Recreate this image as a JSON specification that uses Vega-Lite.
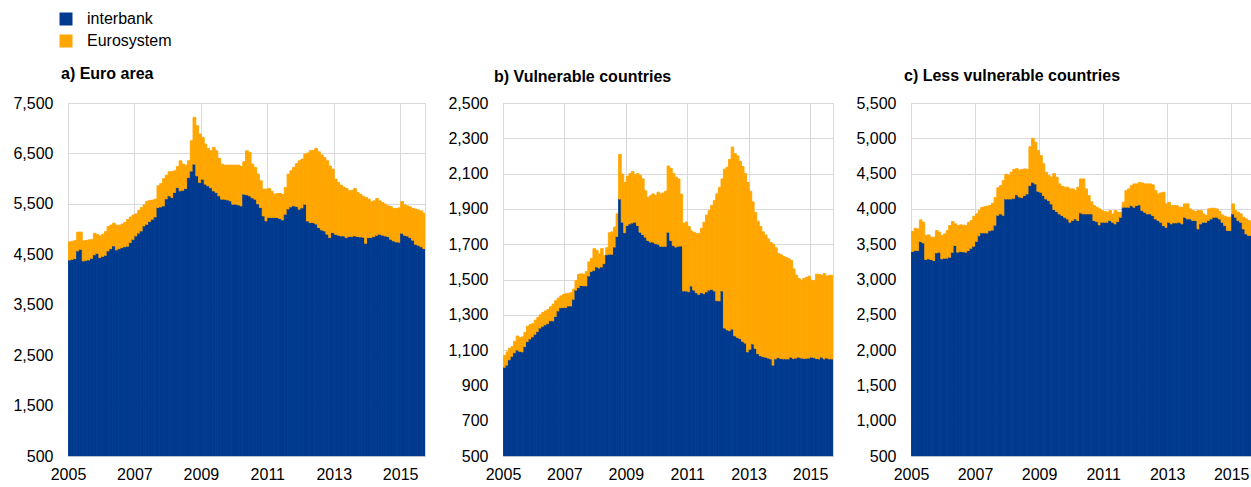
{
"$schema": "https://vega.github.io/schema/vega-lite/v6.json",
"padding": {"left": 12, "top": 11, "right": 0, "bottom": 0},
"background": "#ffffff",
"config": {
  "font": "Liberation Sans",
  "view": {"stroke": "#d9d9d9"},
  "bar": {"binSpacing": 0, "continuousBandSize": 1},
  "axis": {"labelFontSize": 16, "labelColor": "#000000", "gridColor": "#d9d9d9", "ticks": false, "domain": false, "labelFont": "Liberation Sans"},
  "axisY": {"labelPadding": 15},
  "axisX": {"labelPadding": 10, "domain": true, "domainColor": "#b9c0ce", "labelFlush": false},
  "title": {"font": "Liberation Sans", "fontSize": 16, "fontWeight": "bold", "color": "#000000", "anchor": "start", "frame": "group", "baseline": "alphabetic"},
  "legend": {"labelFont": "Liberation Sans", "labelFontSize": 16, "labelColor": "#000000"}
},
"datasets": {
"a": [
{"d":"2005-01","interbank":4387,"Eurosystem":358},{"d":"2005-02","interbank":4400,"Eurosystem":360},{"d":"2005-03","interbank":4414,"Eurosystem":356},{"d":"2005-04","interbank":4566,"Eurosystem":374},{"d":"2005-05","interbank":4599,"Eurosystem":341},{"d":"2005-06","interbank":4367,"Eurosystem":398},{"d":"2005-07","interbank":4380,"Eurosystem":395},{"d":"2005-08","interbank":4387,"Eurosystem":398},{"d":"2005-09","interbank":4420,"Eurosystem":370},{"d":"2005-10","interbank":4490,"Eurosystem":427},{"d":"2005-11","interbank":4520,"Eurosystem":370},{"d":"2005-12","interbank":4434,"Eurosystem":430},
{"d":"2006-01","interbank":4460,"Eurosystem":437},{"d":"2006-02","interbank":4480,"Eurosystem":470},{"d":"2006-03","interbank":4566,"Eurosystem":484},{"d":"2006-04","interbank":4610,"Eurosystem":470},{"d":"2006-05","interbank":4665,"Eurosystem":451},{"d":"2006-06","interbank":4586,"Eurosystem":490},{"d":"2006-07","interbank":4610,"Eurosystem":466},{"d":"2006-08","interbank":4632,"Eurosystem":468},{"d":"2006-09","interbank":4650,"Eurosystem":479},{"d":"2006-10","interbank":4660,"Eurosystem":530},{"d":"2006-11","interbank":4732,"Eurosystem":508},{"d":"2006-12","interbank":4798,"Eurosystem":482},
{"d":"2007-01","interbank":4864,"Eurosystem":436},{"d":"2007-02","interbank":4920,"Eurosystem":450},{"d":"2007-03","interbank":4963,"Eurosystem":464},{"d":"2007-04","interbank":5063,"Eurosystem":417},{"d":"2007-05","interbank":5096,"Eurosystem":454},{"d":"2007-06","interbank":5150,"Eurosystem":415},{"d":"2007-07","interbank":5195,"Eurosystem":380},{"d":"2007-08","interbank":5240,"Eurosystem":353},{"d":"2007-09","interbank":5427,"Eurosystem":431},{"d":"2007-10","interbank":5440,"Eurosystem":460},{"d":"2007-11","interbank":5460,"Eurosystem":540},{"d":"2007-12","interbank":5600,"Eurosystem":469},
{"d":"2008-01","interbank":5659,"Eurosystem":477},{"d":"2008-02","interbank":5626,"Eurosystem":514},{"d":"2008-03","interbank":5725,"Eurosystem":431},{"d":"2008-04","interbank":5824,"Eurosystem":418},{"d":"2008-05","interbank":5758,"Eurosystem":596},{"d":"2008-06","interbank":5770,"Eurosystem":518},{"d":"2008-07","interbank":5805,"Eurosystem":463},{"d":"2008-08","interbank":6023,"Eurosystem":331},{"d":"2008-09","interbank":6150,"Eurosystem":602},{"d":"2008-10","interbank":6288,"Eurosystem":927},{"d":"2008-11","interbank":6056,"Eurosystem":994},{"d":"2008-12","interbank":5924,"Eurosystem":960},
{"d":"2009-01","interbank":5990,"Eurosystem":828},{"d":"2009-02","interbank":5891,"Eurosystem":794},{"d":"2009-03","interbank":5857,"Eurosystem":743},{"d":"2009-04","interbank":5820,"Eurosystem":733},{"d":"2009-05","interbank":5758,"Eurosystem":861},{"d":"2009-06","interbank":5725,"Eurosystem":828},{"d":"2009-07","interbank":5660,"Eurosystem":740},{"d":"2009-08","interbank":5593,"Eurosystem":695},{"d":"2009-09","interbank":5593,"Eurosystem":675},{"d":"2009-10","interbank":5580,"Eurosystem":688},{"d":"2009-11","interbank":5560,"Eurosystem":708},{"d":"2009-12","interbank":5493,"Eurosystem":775},
{"d":"2010-01","interbank":5493,"Eurosystem":775},{"d":"2010-02","interbank":5480,"Eurosystem":788},{"d":"2010-03","interbank":5460,"Eurosystem":782},{"d":"2010-04","interbank":5692,"Eurosystem":642},{"d":"2010-05","interbank":5680,"Eurosystem":873},{"d":"2010-06","interbank":5659,"Eurosystem":861},{"d":"2010-07","interbank":5620,"Eurosystem":668},{"d":"2010-08","interbank":5593,"Eurosystem":629},{"d":"2010-09","interbank":5500,"Eurosystem":590},{"d":"2010-10","interbank":5427,"Eurosystem":530},{"d":"2010-11","interbank":5261,"Eurosystem":530},{"d":"2010-12","interbank":5162,"Eurosystem":629},
{"d":"2011-01","interbank":5228,"Eurosystem":577},{"d":"2011-02","interbank":5228,"Eurosystem":522},{"d":"2011-03","interbank":5228,"Eurosystem":464},{"d":"2011-04","interbank":5228,"Eurosystem":477},{"d":"2011-05","interbank":5210,"Eurosystem":495},{"d":"2011-06","interbank":5182,"Eurosystem":503},{"d":"2011-07","interbank":5295,"Eurosystem":529},{"d":"2011-08","interbank":5400,"Eurosystem":690},{"d":"2011-09","interbank":5440,"Eurosystem":716},{"d":"2011-10","interbank":5460,"Eurosystem":762},{"d":"2011-11","interbank":5447,"Eurosystem":853},{"d":"2011-12","interbank":5394,"Eurosystem":960},
{"d":"2012-01","interbank":5420,"Eurosystem":967},{"d":"2012-02","interbank":5493,"Eurosystem":994},{"d":"2012-03","interbank":5160,"Eurosystem":1347},{"d":"2012-04","interbank":5129,"Eurosystem":1424},{"d":"2012-05","interbank":5129,"Eurosystem":1431},{"d":"2012-06","interbank":5100,"Eurosystem":1500},{"d":"2012-07","interbank":5030,"Eurosystem":1503},{"d":"2012-08","interbank":4983,"Eurosystem":1487},{"d":"2012-09","interbank":4963,"Eurosystem":1457},{"d":"2012-10","interbank":4900,"Eurosystem":1454},{"d":"2012-11","interbank":4831,"Eurosystem":1419},{"d":"2012-12","interbank":4930,"Eurosystem":1259},
{"d":"2013-01","interbank":4897,"Eurosystem":1093},{"d":"2013-02","interbank":4880,"Eurosystem":1044},{"d":"2013-03","interbank":4864,"Eurosystem":1007},{"d":"2013-04","interbank":4864,"Eurosystem":966},{"d":"2013-05","interbank":4831,"Eurosystem":974},{"d":"2013-06","interbank":4851,"Eurosystem":907},{"d":"2013-07","interbank":4851,"Eurosystem":919},{"d":"2013-08","interbank":4864,"Eurosystem":941},{"d":"2013-09","interbank":4851,"Eurosystem":874},{"d":"2013-10","interbank":4844,"Eurosystem":848},{"d":"2013-11","interbank":4840,"Eurosystem":810},{"d":"2013-12","interbank":4718,"Eurosystem":908},
{"d":"2014-01","interbank":4831,"Eurosystem":762},{"d":"2014-02","interbank":4831,"Eurosystem":709},{"d":"2014-03","interbank":4851,"Eurosystem":709},{"d":"2014-04","interbank":4877,"Eurosystem":729},{"d":"2014-05","interbank":4897,"Eurosystem":663},{"d":"2014-06","interbank":4880,"Eurosystem":646},{"d":"2014-07","interbank":4864,"Eurosystem":629},{"d":"2014-08","interbank":4851,"Eurosystem":609},{"d":"2014-09","interbank":4798,"Eurosystem":649},{"d":"2014-10","interbank":4765,"Eurosystem":642},{"d":"2014-11","interbank":4745,"Eurosystem":662},{"d":"2014-12","interbank":4740,"Eurosystem":680},
{"d":"2015-01","interbank":4917,"Eurosystem":629},{"d":"2015-02","interbank":4877,"Eurosystem":603},{"d":"2015-03","interbank":4864,"Eurosystem":596},{"d":"2015-04","interbank":4831,"Eurosystem":609},{"d":"2015-05","interbank":4780,"Eurosystem":627},{"d":"2015-06","interbank":4699,"Eurosystem":695},{"d":"2015-07","interbank":4679,"Eurosystem":701},{"d":"2015-08","interbank":4650,"Eurosystem":711},{"d":"2015-09","interbank":4613,"Eurosystem":702}
],
"b": [
{"d":"2005-01","interbank":1003,"Eurosystem":67},{"d":"2005-02","interbank":1015,"Eurosystem":75},{"d":"2005-03","interbank":1045,"Eurosystem":65},{"d":"2005-04","interbank":1065,"Eurosystem":55},{"d":"2005-05","interbank":1085,"Eurosystem":65},{"d":"2005-06","interbank":1100,"Eurosystem":80},{"d":"2005-07","interbank":1093,"Eurosystem":77},{"d":"2005-08","interbank":1090,"Eurosystem":85},{"d":"2005-09","interbank":1120,"Eurosystem":80},{"d":"2005-10","interbank":1148,"Eurosystem":87},{"d":"2005-11","interbank":1163,"Eurosystem":82},{"d":"2005-12","interbank":1175,"Eurosystem":75},
{"d":"2006-01","interbank":1190,"Eurosystem":80},{"d":"2006-02","interbank":1205,"Eurosystem":80},{"d":"2006-03","interbank":1225,"Eurosystem":75},{"d":"2006-04","interbank":1235,"Eurosystem":78},{"d":"2006-05","interbank":1243,"Eurosystem":79},{"d":"2006-06","interbank":1250,"Eurosystem":80},{"d":"2006-07","interbank":1266,"Eurosystem":79},{"d":"2006-08","interbank":1266,"Eurosystem":94},{"d":"2006-09","interbank":1290,"Eurosystem":90},{"d":"2006-10","interbank":1322,"Eurosystem":73},{"d":"2006-11","interbank":1340,"Eurosystem":67},{"d":"2006-12","interbank":1341,"Eurosystem":74},
{"d":"2007-01","interbank":1341,"Eurosystem":79},{"d":"2007-02","interbank":1350,"Eurosystem":72},{"d":"2007-03","interbank":1350,"Eurosystem":75},{"d":"2007-04","interbank":1388,"Eurosystem":57},{"d":"2007-05","interbank":1440,"Eurosystem":55},{"d":"2007-06","interbank":1454,"Eurosystem":76},{"d":"2007-07","interbank":1466,"Eurosystem":66},{"d":"2007-08","interbank":1464,"Eurosystem":66},{"d":"2007-09","interbank":1464,"Eurosystem":81},{"d":"2007-10","interbank":1520,"Eurosystem":80},{"d":"2007-11","interbank":1545,"Eurosystem":75},{"d":"2007-12","interbank":1552,"Eurosystem":123},
{"d":"2008-01","interbank":1571,"Eurosystem":94},{"d":"2008-02","interbank":1565,"Eurosystem":80},{"d":"2008-03","interbank":1571,"Eurosystem":104},{"d":"2008-04","interbank":1590,"Eurosystem":45},{"d":"2008-05","interbank":1640,"Eurosystem":40},{"d":"2008-06","interbank":1643,"Eurosystem":122},{"d":"2008-07","interbank":1643,"Eurosystem":127},{"d":"2008-08","interbank":1684,"Eurosystem":113},{"d":"2008-09","interbank":1744,"Eurosystem":128},{"d":"2008-10","interbank":1956,"Eurosystem":253},{"d":"2008-11","interbank":1825,"Eurosystem":272},{"d":"2008-12","interbank":1765,"Eurosystem":285},
{"d":"2009-01","interbank":1806,"Eurosystem":279},{"d":"2009-02","interbank":1815,"Eurosystem":285},{"d":"2009-03","interbank":1820,"Eurosystem":292},{"d":"2009-04","interbank":1825,"Eurosystem":270},{"d":"2009-05","interbank":1806,"Eurosystem":294},{"d":"2009-06","interbank":1768,"Eurosystem":322},{"d":"2009-07","interbank":1755,"Eurosystem":315},{"d":"2009-08","interbank":1740,"Eurosystem":263},{"d":"2009-09","interbank":1721,"Eurosystem":244},{"d":"2009-10","interbank":1712,"Eurosystem":263},{"d":"2009-11","interbank":1712,"Eurosystem":273},{"d":"2009-12","interbank":1703,"Eurosystem":272},
{"d":"2010-01","interbank":1700,"Eurosystem":295},{"d":"2010-02","interbank":1688,"Eurosystem":297},{"d":"2010-03","interbank":1688,"Eurosystem":302},{"d":"2010-04","interbank":1688,"Eurosystem":312},{"d":"2010-05","interbank":1768,"Eurosystem":375},{"d":"2010-06","interbank":1721,"Eurosystem":409},{"d":"2010-07","interbank":1693,"Eurosystem":407},{"d":"2010-08","interbank":1684,"Eurosystem":396},{"d":"2010-09","interbank":1688,"Eurosystem":382},{"d":"2010-10","interbank":1690,"Eurosystem":294},{"d":"2010-11","interbank":1435,"Eurosystem":384},{"d":"2010-12","interbank":1435,"Eurosystem":390},
{"d":"2011-01","interbank":1431,"Eurosystem":369},{"d":"2011-02","interbank":1463,"Eurosystem":312},{"d":"2011-03","interbank":1440,"Eurosystem":328},{"d":"2011-04","interbank":1425,"Eurosystem":335},{"d":"2011-05","interbank":1416,"Eurosystem":344},{"d":"2011-06","interbank":1425,"Eurosystem":365},{"d":"2011-07","interbank":1420,"Eurosystem":405},{"d":"2011-08","interbank":1430,"Eurosystem":435},{"d":"2011-09","interbank":1440,"Eurosystem":450},{"d":"2011-10","interbank":1444,"Eurosystem":476},{"d":"2011-11","interbank":1435,"Eurosystem":512},{"d":"2011-12","interbank":1380,"Eurosystem":605},
{"d":"2012-01","interbank":1379,"Eurosystem":643},{"d":"2012-02","interbank":1435,"Eurosystem":635},{"d":"2012-03","interbank":1225,"Eurosystem":900},{"d":"2012-04","interbank":1215,"Eurosystem":921},{"d":"2012-05","interbank":1210,"Eurosystem":971},{"d":"2012-06","interbank":1219,"Eurosystem":1031},{"d":"2012-07","interbank":1181,"Eurosystem":1032},{"d":"2012-08","interbank":1172,"Eurosystem":1028},{"d":"2012-09","interbank":1165,"Eurosystem":1005},{"d":"2012-10","interbank":1150,"Eurosystem":990},{"d":"2012-11","interbank":1140,"Eurosystem":960},{"d":"2012-12","interbank":1090,"Eurosystem":960},
{"d":"2013-01","interbank":1105,"Eurosystem":895},{"d":"2013-02","interbank":1135,"Eurosystem":805},{"d":"2013-03","interbank":1110,"Eurosystem":770},{"d":"2013-04","interbank":1080,"Eurosystem":750},{"d":"2013-05","interbank":1068,"Eurosystem":732},{"d":"2013-06","interbank":1063,"Eurosystem":707},{"d":"2013-07","interbank":1060,"Eurosystem":692},{"d":"2013-08","interbank":1055,"Eurosystem":675},{"d":"2013-09","interbank":1050,"Eurosystem":660},{"d":"2013-10","interbank":1015,"Eurosystem":685},{"d":"2013-11","interbank":1050,"Eurosystem":630},{"d":"2013-12","interbank":1058,"Eurosystem":589},
{"d":"2014-01","interbank":1052,"Eurosystem":588},{"d":"2014-02","interbank":1050,"Eurosystem":580},{"d":"2014-03","interbank":1050,"Eurosystem":575},{"d":"2014-04","interbank":1050,"Eurosystem":568},{"d":"2014-05","interbank":1060,"Eurosystem":549},{"d":"2014-06","interbank":1052,"Eurosystem":508},{"d":"2014-07","interbank":1055,"Eurosystem":470},{"d":"2014-08","interbank":1060,"Eurosystem":445},{"d":"2014-09","interbank":1055,"Eurosystem":441},{"d":"2014-10","interbank":1053,"Eurosystem":453},{"d":"2014-11","interbank":1053,"Eurosystem":459},{"d":"2014-12","interbank":1055,"Eurosystem":464},
{"d":"2015-01","interbank":1060,"Eurosystem":436},{"d":"2015-02","interbank":1057,"Eurosystem":436},{"d":"2015-03","interbank":1052,"Eurosystem":478},{"d":"2015-04","interbank":1050,"Eurosystem":478},{"d":"2015-05","interbank":1060,"Eurosystem":464},{"d":"2015-06","interbank":1050,"Eurosystem":484},{"d":"2015-07","interbank":1055,"Eurosystem":464},{"d":"2015-08","interbank":1050,"Eurosystem":474},{"d":"2015-09","interbank":1050,"Eurosystem":474}
],
"c": [
{"d":"2005-01","interbank":3396,"Eurosystem":284},{"d":"2005-02","interbank":3410,"Eurosystem":316},{"d":"2005-03","interbank":3410,"Eurosystem":307},{"d":"2005-04","interbank":3538,"Eurosystem":306},{"d":"2005-05","interbank":3519,"Eurosystem":292},{"d":"2005-06","interbank":3283,"Eurosystem":340},{"d":"2005-07","interbank":3292,"Eurosystem":340},{"d":"2005-08","interbank":3283,"Eurosystem":316},{"d":"2005-09","interbank":3269,"Eurosystem":330},{"d":"2005-10","interbank":3377,"Eurosystem":316},{"d":"2005-11","interbank":3387,"Eurosystem":283},{"d":"2005-12","interbank":3292,"Eurosystem":331},
{"d":"2006-01","interbank":3302,"Eurosystem":344},{"d":"2006-02","interbank":3302,"Eurosystem":391},{"d":"2006-03","interbank":3316,"Eurosystem":448},{"d":"2006-04","interbank":3387,"Eurosystem":434},{"d":"2006-05","interbank":3481,"Eurosystem":307},{"d":"2006-06","interbank":3387,"Eurosystem":377},{"d":"2006-07","interbank":3396,"Eurosystem":378},{"d":"2006-08","interbank":3392,"Eurosystem":378},{"d":"2006-09","interbank":3387,"Eurosystem":377},{"d":"2006-10","interbank":3410,"Eurosystem":401},{"d":"2006-11","interbank":3443,"Eurosystem":392},{"d":"2006-12","interbank":3472,"Eurosystem":424},
{"d":"2007-01","interbank":3540,"Eurosystem":390},{"d":"2007-02","interbank":3620,"Eurosystem":360},{"d":"2007-03","interbank":3660,"Eurosystem":360},{"d":"2007-04","interbank":3660,"Eurosystem":370},{"d":"2007-05","interbank":3660,"Eurosystem":380},{"d":"2007-06","interbank":3690,"Eurosystem":360},{"d":"2007-07","interbank":3700,"Eurosystem":380},{"d":"2007-08","interbank":3770,"Eurosystem":390},{"d":"2007-09","interbank":3910,"Eurosystem":390},{"d":"2007-10","interbank":3930,"Eurosystem":400},{"d":"2007-11","interbank":3910,"Eurosystem":490},{"d":"2007-12","interbank":4140,"Eurosystem":350},
{"d":"2008-01","interbank":4140,"Eurosystem":340},{"d":"2008-02","interbank":4140,"Eurosystem":380},{"d":"2008-03","interbank":4150,"Eurosystem":410},{"d":"2008-04","interbank":4200,"Eurosystem":370},{"d":"2008-05","interbank":4170,"Eurosystem":380},{"d":"2008-06","interbank":4160,"Eurosystem":400},{"d":"2008-07","interbank":4189,"Eurosystem":377},{"d":"2008-08","interbank":4212,"Eurosystem":348},{"d":"2008-09","interbank":4330,"Eurosystem":550},{"d":"2008-10","interbank":4377,"Eurosystem":623},{"d":"2008-11","interbank":4354,"Eurosystem":589},{"d":"2008-12","interbank":4250,"Eurosystem":575},
{"d":"2009-01","interbank":4236,"Eurosystem":519},{"d":"2009-02","interbank":4189,"Eurosystem":451},{"d":"2009-03","interbank":4141,"Eurosystem":378},{"d":"2009-04","interbank":4118,"Eurosystem":354},{"d":"2009-05","interbank":4070,"Eurosystem":380},{"d":"2009-06","interbank":3991,"Eurosystem":509},{"d":"2009-07","interbank":3962,"Eurosystem":488},{"d":"2009-08","interbank":3929,"Eurosystem":425},{"d":"2009-09","interbank":3906,"Eurosystem":414},{"d":"2009-10","interbank":3882,"Eurosystem":425},{"d":"2009-11","interbank":3858,"Eurosystem":449},{"d":"2009-12","interbank":3811,"Eurosystem":472},
{"d":"2010-01","interbank":3835,"Eurosystem":448},{"d":"2010-02","interbank":3858,"Eurosystem":402},{"d":"2010-03","interbank":3835,"Eurosystem":472},{"d":"2010-04","interbank":3943,"Eurosystem":481},{"d":"2010-05","interbank":3929,"Eurosystem":495},{"d":"2010-06","interbank":3929,"Eurosystem":354},{"d":"2010-07","interbank":3929,"Eurosystem":260},{"d":"2010-08","interbank":3929,"Eurosystem":171},{"d":"2010-09","interbank":3835,"Eurosystem":212},{"d":"2010-10","interbank":3821,"Eurosystem":203},{"d":"2010-11","interbank":3774,"Eurosystem":226},{"d":"2010-12","interbank":3811,"Eurosystem":165},
{"d":"2011-01","interbank":3811,"Eurosystem":151},{"d":"2011-02","interbank":3811,"Eurosystem":142},{"d":"2011-03","interbank":3835,"Eurosystem":141},{"d":"2011-04","interbank":3811,"Eurosystem":118},{"d":"2011-05","interbank":3788,"Eurosystem":188},{"d":"2011-06","interbank":3821,"Eurosystem":132},{"d":"2011-07","interbank":3882,"Eurosystem":71},{"d":"2011-08","interbank":4024,"Eurosystem":70},{"d":"2011-09","interbank":4024,"Eurosystem":235},{"d":"2011-10","interbank":4024,"Eurosystem":259},{"d":"2011-11","interbank":4047,"Eurosystem":283},{"d":"2011-12","interbank":4024,"Eurosystem":330},
{"d":"2012-01","interbank":4047,"Eurosystem":307},{"d":"2012-02","interbank":4057,"Eurosystem":320},{"d":"2012-03","interbank":3976,"Eurosystem":392},{"d":"2012-04","interbank":3953,"Eurosystem":401},{"d":"2012-05","interbank":3929,"Eurosystem":425},{"d":"2012-06","interbank":3929,"Eurosystem":425},{"d":"2012-07","interbank":3906,"Eurosystem":434},{"d":"2012-08","interbank":3858,"Eurosystem":401},{"d":"2012-09","interbank":3835,"Eurosystem":377},{"d":"2012-10","interbank":3811,"Eurosystem":415},{"d":"2012-11","interbank":3764,"Eurosystem":472},{"d":"2012-12","interbank":3740,"Eurosystem":331},
{"d":"2013-01","interbank":3811,"Eurosystem":283},{"d":"2013-02","interbank":3788,"Eurosystem":259},{"d":"2013-03","interbank":3802,"Eurosystem":245},{"d":"2013-04","interbank":3802,"Eurosystem":245},{"d":"2013-05","interbank":3811,"Eurosystem":213},{"d":"2013-06","interbank":3788,"Eurosystem":236},{"d":"2013-07","interbank":3882,"Eurosystem":189},{"d":"2013-08","interbank":3858,"Eurosystem":213},{"d":"2013-09","interbank":3858,"Eurosystem":142},{"d":"2013-10","interbank":3835,"Eurosystem":141},{"d":"2013-11","interbank":3835,"Eurosystem":127},{"d":"2013-12","interbank":3717,"Eurosystem":259},
{"d":"2014-01","interbank":3788,"Eurosystem":188},{"d":"2014-02","interbank":3811,"Eurosystem":118},{"d":"2014-03","interbank":3811,"Eurosystem":95},{"d":"2014-04","interbank":3835,"Eurosystem":165},{"d":"2014-05","interbank":3858,"Eurosystem":151},{"d":"2014-06","interbank":3882,"Eurosystem":127},{"d":"2014-07","interbank":3882,"Eurosystem":118},{"d":"2014-08","interbank":3858,"Eurosystem":104},{"d":"2014-09","interbank":3811,"Eurosystem":104},{"d":"2014-10","interbank":3764,"Eurosystem":132},{"d":"2014-11","interbank":3693,"Eurosystem":189},{"d":"2014-12","interbank":3693,"Eurosystem":189},
{"d":"2015-01","interbank":3929,"Eurosystem":142},{"d":"2015-02","interbank":3882,"Eurosystem":94},{"d":"2015-03","interbank":3835,"Eurosystem":118},{"d":"2015-04","interbank":3811,"Eurosystem":118},{"d":"2015-05","interbank":3717,"Eurosystem":165},{"d":"2015-06","interbank":3646,"Eurosystem":212},{"d":"2015-07","interbank":3623,"Eurosystem":212},{"d":"2015-08","interbank":3623,"Eurosystem":188},{"d":"2015-09","interbank":3623,"Eurosystem":188}
]
},
"hconcat": [
{
  "width": 357, "height": 353,
  "data": {"name": "a"},
  "transform": [{"fold": ["interbank", "Eurosystem"], "as": ["series", "value"]}],
  "title": {"text": "a) Euro area", "dx": -7, "offset": 13},
  "mark": {"type": "bar", "clip": true, "binSpacing": 0},
  "encoding": {
    "x": {"field": "d", "type": "temporal", "timeUnit": "utcyearmonth",
      "scale": {"domain": [{"year": 2005, "month": 1, "date": 1, "utc": true}, {"year": 2015, "month": 10, "date": 1, "utc": true}]},
      "axis": {"title": null, "format": "%Y", "values": [{"year": 2005, "month": 1, "date": 1, "utc": true}, {"year": 2007, "month": 1, "date": 1, "utc": true}, {"year": 2009, "month": 1, "date": 1, "utc": true}, {"year": 2011, "month": 1, "date": 1, "utc": true}, {"year": 2013, "month": 1, "date": 1, "utc": true}, {"year": 2015, "month": 1, "date": 1, "utc": true}]}},
    "y": {"field": "value", "type": "quantitative", "stack": "zero",
      "scale": {"domain": [500, 7500], "zero": false},
      "axis": {"title": null, "format": ",d", "values": [500, 1500, 2500, 3500, 4500, 5500, 6500, 7500]}},
    "color": {"field": "series", "type": "nominal",
      "scale": {"domain": ["interbank", "Eurosystem"], "range": ["#003a8e", "#ffa600"]},
      "legend": {"title": null, "orient": "none", "legendX": -10, "legendY": -92, "symbolType": "square", "symbolSize": 169, "labelOffset": 13, "rowPadding": 6, "padding": 0, "symbolStrokeWidth": 0}},
    "stroke": {"field": "series", "type": "nominal",
      "scale": {"domain": ["interbank", "Eurosystem"], "range": ["#003a8e", "#ffa600"]}, "legend": null},
    "strokeWidth": {"value": 0.9},
    "order": {"field": "series", "sort": "descending"}
  }
},
{
  "width": 330, "height": 353,
  "data": {"name": "b"},
  "transform": [{"fold": ["interbank", "Eurosystem"], "as": ["series", "value"]}],
  "title": {"text": "b) Vulnerable countries", "dx": -9, "offset": 10},
  "mark": {"type": "bar", "clip": true, "binSpacing": 0},
  "encoding": {
    "x": {"field": "d", "type": "temporal", "timeUnit": "utcyearmonth",
      "scale": {"domain": [{"year": 2005, "month": 1, "date": 1, "utc": true}, {"year": 2015, "month": 10, "date": 1, "utc": true}]},
      "axis": {"title": null, "format": "%Y", "values": [{"year": 2005, "month": 1, "date": 1, "utc": true}, {"year": 2007, "month": 1, "date": 1, "utc": true}, {"year": 2009, "month": 1, "date": 1, "utc": true}, {"year": 2011, "month": 1, "date": 1, "utc": true}, {"year": 2013, "month": 1, "date": 1, "utc": true}, {"year": 2015, "month": 1, "date": 1, "utc": true}]}},
    "y": {"field": "value", "type": "quantitative", "stack": "zero",
      "scale": {"domain": [500, 2500], "zero": false},
      "axis": {"title": null, "format": ",d", "values": [500, 700, 900, 1100, 1300, 1500, 1700, 1900, 2100, 2300, 2500]}},
    "color": {"field": "series", "type": "nominal",
      "scale": {"domain": ["interbank", "Eurosystem"], "range": ["#003a8e", "#ffa600"]},
      "legend": {"title": null, "orient": "none", "legendX": -10, "legendY": -92, "symbolType": "square", "symbolSize": 169, "labelOffset": 13, "rowPadding": 6, "padding": 0, "symbolStrokeWidth": 0}},
    "stroke": {"field": "series", "type": "nominal",
      "scale": {"domain": ["interbank", "Eurosystem"], "range": ["#003a8e", "#ffa600"]}, "legend": null},
    "strokeWidth": {"value": 0.9},
    "order": {"field": "series", "sort": "descending"}
  }
},
{
  "width": 341, "height": 353,
  "data": {"name": "c"},
  "transform": [{"fold": ["interbank", "Eurosystem"], "as": ["series", "value"]}],
  "title": {"text": "c) Less vulnerable countries", "dx": -7, "offset": 11},
  "mark": {"type": "bar", "clip": true, "binSpacing": 0},
  "encoding": {
    "x": {"field": "d", "type": "temporal", "timeUnit": "utcyearmonth",
      "scale": {"domain": [{"year": 2005, "month": 1, "date": 1, "utc": true}, {"year": 2015, "month": 8, "date": 26, "utc": true}]},
      "axis": {"title": null, "format": "%Y", "values": [{"year": 2005, "month": 1, "date": 1, "utc": true}, {"year": 2007, "month": 1, "date": 1, "utc": true}, {"year": 2009, "month": 1, "date": 1, "utc": true}, {"year": 2011, "month": 1, "date": 1, "utc": true}, {"year": 2013, "month": 1, "date": 1, "utc": true}, {"year": 2015, "month": 1, "date": 1, "utc": true}]}},
    "y": {"field": "value", "type": "quantitative", "stack": "zero",
      "scale": {"domain": [500, 5500], "zero": false},
      "axis": {"title": null, "format": ",d", "values": [500, 1000, 1500, 2000, 2500, 3000, 3500, 4000, 4500, 5000, 5500]}},
    "color": {"field": "series", "type": "nominal",
      "scale": {"domain": ["interbank", "Eurosystem"], "range": ["#003a8e", "#ffa600"]},
      "legend": {"title": null, "orient": "none", "legendX": -10, "legendY": -92, "symbolType": "square", "symbolSize": 169, "labelOffset": 13, "rowPadding": 6, "padding": 0, "symbolStrokeWidth": 0}},
    "stroke": {"field": "series", "type": "nominal",
      "scale": {"domain": ["interbank", "Eurosystem"], "range": ["#003a8e", "#ffa600"]}, "legend": null},
    "strokeWidth": {"value": 0.9},
    "order": {"field": "series", "sort": "descending"}
  }
}
],
"spacing": 78,
"bounds": "flush"
}
